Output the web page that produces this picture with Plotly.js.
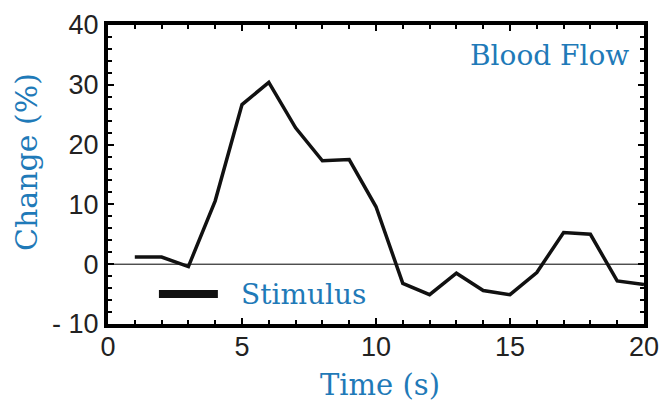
<!DOCTYPE html>
<html>
<head>
<meta charset="utf-8">
<script src="https://cdn.plot.ly/plotly-3.0.1.min.js"></script>
<style>html,body{margin:0;padding:0;background:#fff;}#chart{width:665px;height:404px;}</style>
</head>
<body>
<div id="chart"></div>
<script>
// Data
const timeS = [1, 2, 3, 4, 5, 6, 7, 8, 9, 10, 11, 12, 13, 14, 15, 16, 17, 18, 19, 20];
const changePct = [1.2, 1.2, -0.4, 10.6, 26.7, 30.4, 22.8, 17.3, 17.5, 9.6, -3.2, -5.1, -1.5, -4.4, -5.1, -1.4, 5.3, 5.0, -2.8, -3.4];
const stimulusX = [1.9, 4.1];
const stimulusY = [-5, -5];
const xTickVals = [0, 5, 10, 15, 20];
const xTickText = ['0', '5', '10', '15', '20'];
const yTickVals = [-10, 0, 10, 20, 30, 40];
const yTickText = ['- 10', '0', '10', '20', '30', '40'];

const blue = '#1f7ab8';
const serif = 'DejaVu Serif, serif';
const sans = 'Liberation Sans, Arial, sans-serif';

const traces = [
  {x: [0, 20], y: [0, 0], mode: 'lines', line: {color: '#000', width: 1}, hoverinfo: 'skip', showlegend: false},
  {x: timeS, y: changePct, mode: 'lines', line: {color: '#111', width: 3.5}, showlegend: false},
  {x: stimulusX, y: stimulusY, mode: 'lines', line: {color: '#111', width: 8}, showlegend: false}
];

const layout = {
  width: 665, height: 404,
  margin: {l: 108, r: 21, t: 25, b: 80},
  paper_bgcolor: '#fff', plot_bgcolor: '#fff',
  showlegend: false,
  xaxis: {
    range: [0, 20], tickmode: 'array', tickvals: xTickVals, ticktext: xTickText,
    ticks: 'inside', ticklen: 6, tickwidth: 2, tickcolor: '#000',
    minor: {dtick: 1, ticks: 'inside', ticklen: 4, tickwidth: 2, tickcolor: '#000'},
    showline: true, linewidth: 4, linecolor: '#000', mirror: 'allticks',
    showgrid: false, zeroline: false, ticklabelstandoff: -4,
    tickfont: {family: sans, size: 27, color: '#222'}
  },
  yaxis: {
    range: [-10, 40], tickmode: 'array', tickvals: yTickVals, ticktext: yTickText,
    ticks: 'inside', ticklen: 6, tickwidth: 2, tickcolor: '#000',
    minor: {dtick: 2, ticks: 'inside', ticklen: 4, tickwidth: 2, tickcolor: '#000'},
    showline: true, linewidth: 4, linecolor: '#000', mirror: 'allticks',
    showgrid: false, zeroline: false,
    tickfont: {family: sans, size: 27, color: '#222'}
  },
  annotations: [
    {text: 'Time (s)', xref: 'paper', yref: 'paper', x: 0.507, y: -0.204, xanchor: 'center', yanchor: 'middle',
     showarrow: false, font: {family: serif, size: 29, color: blue}},
    {text: 'Change (%)', xref: 'paper', yref: 'paper', x: -0.151, y: 0.542, xanchor: 'center', yanchor: 'middle',
     textangle: -90, showarrow: false, font: {family: serif, size: 30, color: blue}},
    {text: 'Blood Flow', xref: 'paper', yref: 'paper', x: 0.975, y: 0.96, xanchor: 'right', yanchor: 'top',
     showarrow: false, font: {family: serif, size: 28, color: blue}},
    {text: 'Stimulus', xref: 'x', yref: 'y', x: 4.9, y: -5, xanchor: 'left', yanchor: 'middle',
     showarrow: false, font: {family: serif, size: 28, color: blue}}
  ]
};

Plotly.newPlot('chart', traces, layout, {displayModeBar: false, staticPlot: true});
</script>
</body>
</html>
